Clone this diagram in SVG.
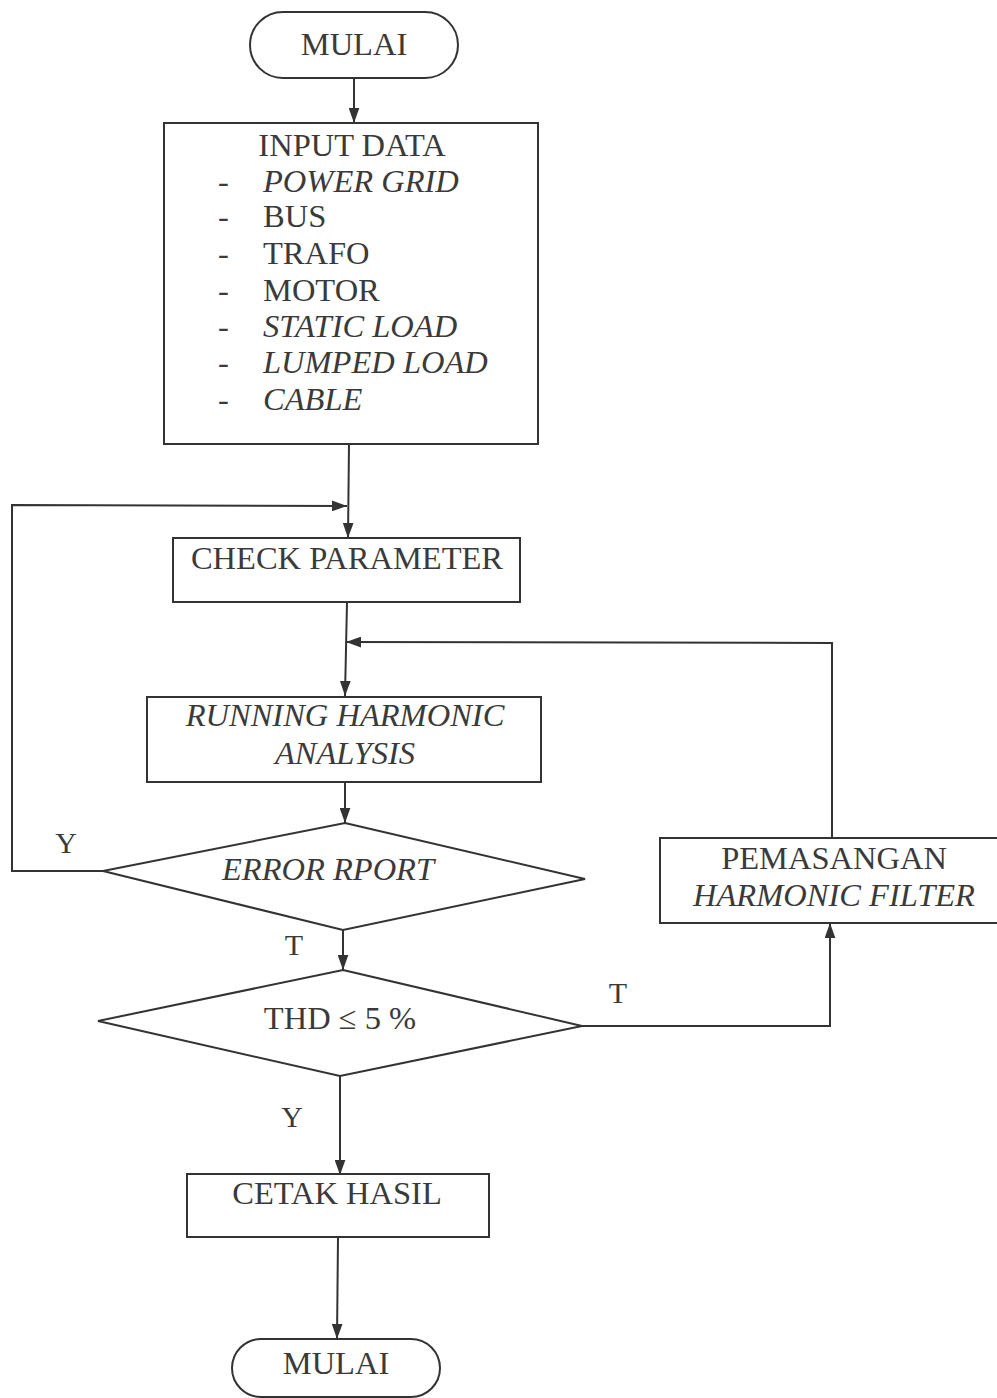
<svg xmlns="http://www.w3.org/2000/svg" width="997" height="1398" viewBox="0 0 997 1398">
<style>
.shape{fill:#fff;stroke:#333;stroke-width:2}
.line{fill:none;stroke:#333;stroke-width:2}
.t{font-family:"Liberation Serif","Times New Roman",serif;font-size:32.5px;fill:#3a3a3a}
.c{text-anchor:middle}
.i{font-style:italic}
.lbl{font-family:"Liberation Serif","Times New Roman",serif;font-size:30px;fill:#3a3a3a}
</style>
<defs>
<marker id="ah" viewBox="0 0 14 10" refX="14" refY="5" markerWidth="15" markerHeight="11" markerUnits="userSpaceOnUse" orient="auto">
<path d="M0,0 L14,5 L0,10 Z" fill="#333"/>
</marker>
</defs>
<g id="connectors">
<line class="line" x1="354" y1="79" x2="354" y2="123" marker-end="url(#ah)"/>
<line class="line" x1="349" y1="444" x2="348" y2="538" marker-end="url(#ah)"/>
<polyline class="line" points="104,871 12,871 12,505 347,506" marker-end="url(#ah)"/>
<line class="line" x1="347" y1="602" x2="345" y2="696" marker-end="url(#ah)"/>
<polyline class="line" points="832,838 832,643 346,642" marker-end="url(#ah)"/>
<line class="line" x1="345" y1="782" x2="345" y2="823" marker-end="url(#ah)"/>
<line class="line" x1="343" y1="930" x2="343" y2="970" marker-end="url(#ah)"/>
<polyline class="line" points="582,1026 830,1026 830,923" marker-end="url(#ah)"/>
<line class="line" x1="340" y1="1076" x2="340" y2="1175" marker-end="url(#ah)"/>
<line class="line" x1="338" y1="1237" x2="337" y2="1339" marker-end="url(#ah)"/>
<text class="lbl" x="66" y="853" text-anchor="middle">Y</text>
<text class="lbl" x="294" y="955" text-anchor="middle">T</text>
<text class="lbl" x="618" y="1003" text-anchor="middle">T</text>
<text class="lbl" x="292" y="1127" text-anchor="middle">Y</text>
</g>
<g id="start">
<rect class="shape" x="250" y="12" width="208" height="66" rx="33" ry="33"/>
<text class="t c" x="354" y="55">MULAI</text>
</g>
<g id="input-data">
<rect class="shape" x="164" y="123" width="374" height="321"/>
<text class="t c" x="352" y="156">INPUT DATA</text>
<g class="t">
<text x="218" y="192">-</text><text class="i" x="263" y="192">POWER GRID</text>
<text x="218" y="227">-</text><text x="263" y="227">BUS</text>
<text x="218" y="264">-</text><text x="263" y="264">TRAFO</text>
<text x="218" y="301">-</text><text x="263" y="301">MOTOR</text>
<text x="218" y="337">-</text><text class="i" x="263" y="337">STATIC LOAD</text>
<text x="218" y="373">-</text><text class="i" x="263" y="373">LUMPED LOAD</text>
<text x="218" y="410">-</text><text class="i" x="263" y="410">CABLE</text>
</g>
</g>
<g id="check-parameter">
<rect class="shape" x="173" y="538" width="347" height="64"/>
<text class="t c" x="347" y="569">CHECK PARAMETER</text>
</g>
<g id="running">
<rect class="shape" x="147" y="697" width="394" height="85"/>
<text class="t c i" x="345" y="726">RUNNING HARMONIC</text>
<text class="t c i" x="345" y="764">ANALYSIS</text>
</g>
<g id="error-report">
<polygon class="shape" points="345,823 585,879 343,930 103,871"/>
<text class="t c i" x="328" y="880">ERROR RPORT</text>
</g>
<g id="thd">
<polygon class="shape" points="343,970 582,1026 340,1076 98,1021"/>
<text class="t c" x="340" y="1029">THD ≤ 5 %</text>
</g>
<g id="filter">
<rect class="shape" x="660" y="838" width="345" height="85"/>
<text class="t c" x="834" y="869">PEMASANGAN</text>
<text class="t c i" x="834" y="906">HARMONIC FILTER</text>
</g>
<g id="cetak">
<rect class="shape" x="187" y="1174" width="302" height="63"/>
<text class="t c" x="337" y="1204">CETAK HASIL</text>
</g>
<g id="end">
<rect class="shape" x="232" y="1339" width="208" height="58" rx="29" ry="29"/>
<text class="t c" x="336" y="1374">MULAI</text>
</g>
</svg>
